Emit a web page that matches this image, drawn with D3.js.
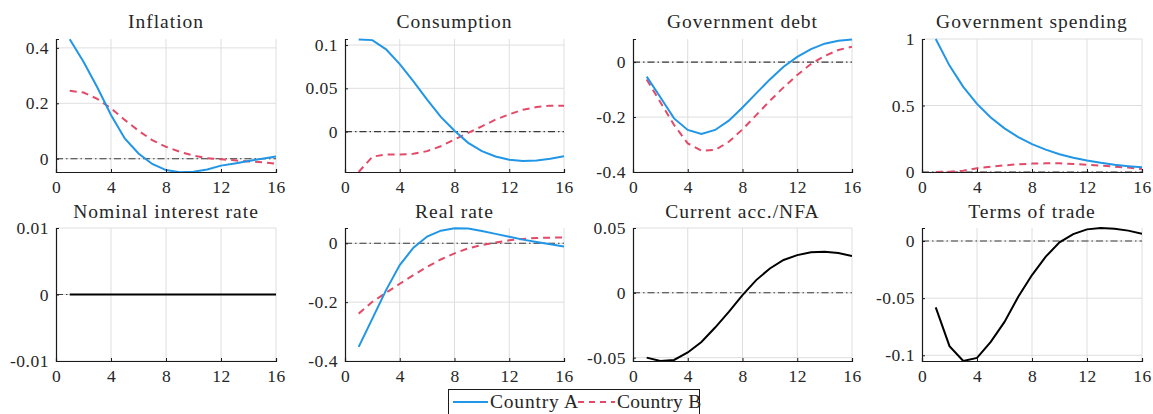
<!DOCTYPE html>
<html>
<head>
<meta charset="utf-8">
<script src="https://cdn.jsdelivr.net/npm/d3@7"></script>
<style>
  body { margin: 0; background: #fff; }
  svg { display: block; }
  text { font-family: "Liberation Serif", "DejaVu Serif", "Noto Serif", serif; fill: #262626; }
</style>
</head>
<body>
<svg id="fig" width="1153" height="414"></svg>
<script>
// Horizon (quarters)
const periods = [1, 2, 3, 4, 5, 6, 7, 8, 9, 10, 11, 12, 13, 14, 15, 16];
const xTicks = [0, 4, 8, 12, 16];

// Impulse responses, Country A (solid) and Country B (dashed)
const inflationA = [0.431, 0.350, 0.258, 0.158, 0.073, 0.019, -0.019, -0.041, -0.049, -0.047, -0.039, -0.025, -0.017, -0.008, 0.000, 0.008];
const inflationB = [0.245, 0.239, 0.216, 0.182, 0.140, 0.101, 0.067, 0.043, 0.025, 0.011, 0.002, -0.002, -0.006, -0.010, -0.013, -0.018];

const consumptionA = [0.1065, 0.1057, 0.095, 0.078, 0.058, 0.037, 0.017, 0.001, -0.013, -0.0226, -0.0287, -0.0326, -0.034, -0.0333, -0.0314, -0.0284];
const consumptionB = [-0.0467, -0.029, -0.0264, -0.0264, -0.0257, -0.0226, -0.0169, -0.0092, -0.0015, 0.0061, 0.0138, 0.020, 0.0253, 0.0284, 0.030, 0.030];

const debtA = [-0.053, -0.128, -0.205, -0.247, -0.262, -0.247, -0.213, -0.165, -0.114, -0.063, -0.017, 0.019, 0.047, 0.067, 0.078, 0.082];
const debtB = [-0.063, -0.146, -0.229, -0.296, -0.322, -0.320, -0.290, -0.245, -0.193, -0.141, -0.092, -0.047, -0.007, 0.022, 0.044, 0.056];

const spendingA = [1.000, 0.800, 0.640, 0.512, 0.410, 0.328, 0.262, 0.210, 0.168, 0.134, 0.107, 0.086, 0.069, 0.055, 0.044, 0.035];
const spendingB = [0.000, 0.002, 0.010, 0.028, 0.040, 0.050, 0.058, 0.063, 0.065, 0.065, 0.060, 0.055, 0.048, 0.040, 0.033, 0.023];

const nominalRate = [0, 0, 0, 0, 0, 0, 0, 0, 0, 0, 0, 0, 0, 0, 0, 0];

const realRateA = [-0.352, -0.256, -0.159, -0.074, -0.015, 0.023, 0.043, 0.051, 0.050, 0.042, 0.032, 0.022, 0.0125, 0.0045, -0.003, -0.011];
const realRateB = [-0.239, -0.199, -0.168, -0.1375, -0.108, -0.080, -0.055, -0.034, -0.017, -0.006, 0.003, 0.010, 0.015, 0.018, 0.019, 0.020];

const currentAccount = [-0.050, -0.0526, -0.0518, -0.046, -0.0379, -0.0268, -0.0147, -0.0018, 0.0098, 0.0188, 0.0253, 0.0291, 0.0312, 0.0317, 0.0307, 0.0284];

const termsOfTrade = [-0.058, -0.092, -0.105, -0.1023, -0.0883, -0.0708, -0.0488, -0.0298, -0.0137, -0.0012, 0.0061, 0.0102, 0.0114, 0.0108, 0.0091, 0.0064];

// Panel titles and y tick labels
const titles = ["Inflation", "Consumption", "Government debt", "Government spending",
                "Nominal interest rate", "Real rate", "Current acc./NFA", "Terms of trade"];
const yTickValues = [
  [0, 0.2, 0.4], [0, 0.05, 0.1], [-0.4, -0.2, 0], [0, 0.5, 1],
  [-0.01, 0, 0.01], [-0.4, -0.2, 0], [-0.05, 0, 0.05], [-0.1, -0.05, 0]
];
const yTickLabels = [
  ["0", "0.2", "0.4"], ["0", "0.05", "0.1"], ["-0.4", "-0.2", "0"], ["0", "0.5", "1"],
  ["-0.01", "0", "0.01"], ["-0.4", "-0.2", "0"], ["-0.05", "0", "0.05"], ["-0.1", "-0.05", "0"]
];
const yLimits = [
  [-0.048, 0.432], [-0.0467, 0.107], [-0.4, 0.084], [0, 1],
  [-0.01, 0.01], [-0.4, 0.052], [-0.0526, 0.05], [-0.105, 0.0114]
];
const legendLabels = ["Country A", "Country B"];

const panelSeries = [
  { a: inflationA, b: inflationB },
  { a: consumptionA, b: consumptionB },
  { a: debtA, b: debtB },
  { a: spendingA, b: spendingB },
  { k: nominalRate },
  { a: realRateA, b: realRateB },
  { k: currentAccount },
  { k: termsOfTrade }
];

const colA = "#2196e6", colB = "#e34a68";
const fontStack = "'Liberation Serif', 'DejaVu Serif', 'Noto Serif', serif";

// Layout
const colLeft = [56, 345, 633, 922];
const colWidth = [220, 219, 219, 220];
const rowTop = [39, 228];
const plotH = 133;

const svg = d3.select("#fig");

panelSeries.forEach((ser, i) => {
  const r = Math.floor(i / 4), c = i % 4;
  const x0 = colLeft[c], y0 = rowTop[r], w = colWidth[c];
  const g = svg.append("g").attr("transform", `translate(${x0},${y0})`);

  const x = d3.scaleLinear().domain([0, 16]).range([0, w]);
  const y = d3.scaleLinear().domain(yLimits[i]).range([plotH, 0]);

  const clipId = "clip" + i;
  g.append("clipPath").attr("id", clipId)
    .append("rect").attr("x", 0).attr("y", -1).attr("width", w).attr("height", plotH + 2);

  // grid
  g.append("g").selectAll("line").data(xTicks.filter(t => t > 0)).join("line")
    .attr("x1", d => x(d)).attr("x2", d => x(d)).attr("y1", 0).attr("y2", plotH)
    .attr("stroke", "#dedede").attr("stroke-width", 1);
  g.append("g").selectAll("line").data(yTickValues[i]).join("line")
    .attr("x1", 0).attr("x2", w).attr("y1", d => y(d)).attr("y2", d => y(d))
    .attr("stroke", "#dedede").attr("stroke-width", 1);

  // zero reference line
  g.append("line")
    .attr("x1", 0).attr("x2", w).attr("y1", y(0)).attr("y2", y(0))
    .attr("stroke", "#3a3a3a").attr("stroke-width", 1.1)
    .attr("stroke-dasharray", "7,3,1.5,3");

  const line = d3.line().x((d, j) => x(periods[j])).y(d => y(d));
  const lines = g.append("g").attr("clip-path", `url(#${clipId})`);
  if (ser.k) {
    lines.append("path").datum(ser.k).attr("d", line)
      .attr("fill", "none").attr("stroke", "#000").attr("stroke-width", 2);
  } else {
    lines.append("path").datum(ser.b).attr("d", line)
      .attr("fill", "none").attr("stroke", colB).attr("stroke-width", 2)
      .attr("stroke-dasharray", "7,5");
    lines.append("path").datum(ser.a).attr("d", line)
      .attr("fill", "none").attr("stroke", colA).attr("stroke-width", 2);
  }

  // axes
  const xAxis = d3.axisBottom(x).tickValues(xTicks).tickSize(-3).tickPadding(9).tickFormat(d3.format("d"));
  const yLabels = yTickLabels[i];
  const yAxis = d3.axisLeft(y).tickValues(yTickValues[i]).tickSize(-3).tickPadding(7)
    .tickFormat((d, j) => yLabels[j]);

  const gx = g.append("g").attr("transform", `translate(0,${plotH})`).call(xAxis);
  const gy = g.append("g").call(yAxis);
  [gx, gy].forEach(ax => {
    ax.attr("font-family", null).attr("font-size", null);
    ax.select(".domain").attr("stroke", "#1a1a1a").attr("stroke-width", 1.2);
    ax.selectAll(".tick line").attr("stroke", "#1a1a1a");
    ax.selectAll("text").style("font-family", fontStack)
      .style("font-size", "17.5px").style("letter-spacing", "0.5px").attr("fill", "#262626");
  });
  gx.selectAll("text").attr("dy", "0.71em");

  // title
  g.append("text").attr("x", w / 2).attr("y", r === 0 ? -11 : -10)
    .attr("text-anchor", "middle").style("font-family", fontStack)
    .style("font-size", "19.5px").style("letter-spacing", "1px").text(titles[i]);
});

// legend
const leg = svg.append("g");
leg.append("rect").attr("x", 448.5).attr("y", 389.5).attr("width", 251).attr("height", 30)
  .attr("fill", "#fff").attr("stroke", "#1a1a1a").attr("stroke-width", 1);
leg.append("line").attr("x1", 453).attr("x2", 488).attr("y1", 402).attr("y2", 402)
  .attr("stroke", colA).attr("stroke-width", 2);
leg.append("text").attr("x", 490).attr("y", 408).style("font-family", fontStack)
  .style("font-size", "19.5px").style("letter-spacing", "0.8px").text(legendLabels[0]);
leg.append("line").attr("x1", 578).attr("x2", 615).attr("y1", 402).attr("y2", 402)
  .attr("stroke", colB).attr("stroke-width", 2).attr("stroke-dasharray", "6,5");
leg.append("text").attr("x", 617).attr("y", 408).style("font-family", fontStack)
  .style("font-size", "19.5px").style("letter-spacing", "0.3px").text(legendLabels[1]);
</script>
</body>
</html>
